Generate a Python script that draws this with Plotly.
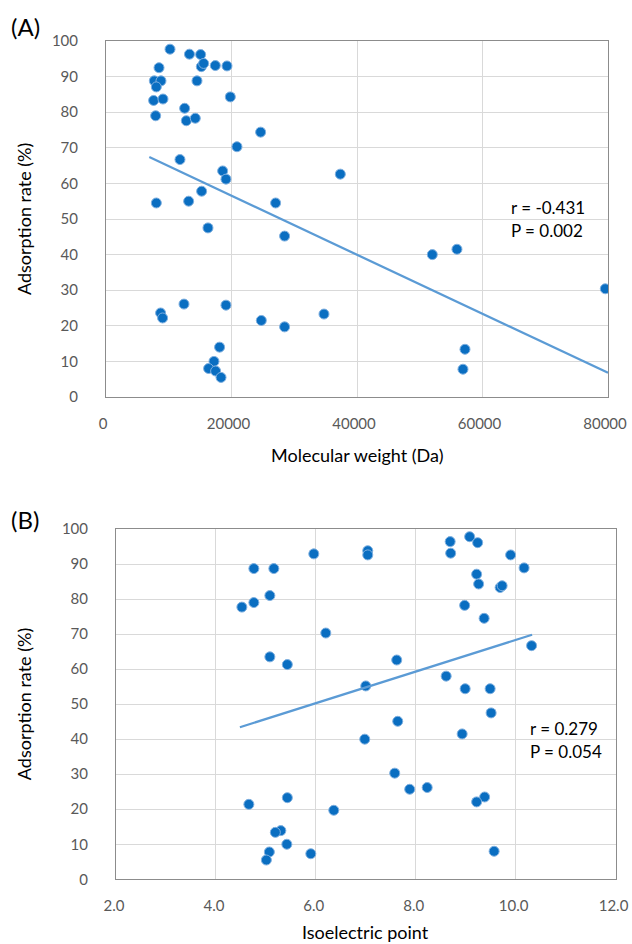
import plotly.graph_objects as go

W, H = 632, 944

# ---------------- Panel A data ----------------
mw_da = [10200, 13300, 15080, 8450, 15190, 15560, 17420, 19280, 7700, 8760,
         8020, 14500, 7590, 9080, 19810, 12530, 7910, 12800, 14230, 24640,
         20870, 11790, 18590, 19120, 37340, 15240, 8020, 13170, 27030, 16250,
         28460, 8700, 9020, 12430, 19120, 24750, 28460, 34740, 18100, 17210,
         16350, 17470, 18330, 52000, 55930, 79570, 57210, 56890]
ads_a = [97.7, 96.3, 96.2, 92.5, 92.8, 93.7, 93.1, 93.0, 88.8, 88.8,
         87.1, 88.8, 83.3, 83.7, 84.3, 81.1, 79.0, 77.6, 78.3, 74.4,
         70.3, 66.7, 63.5, 61.2, 62.6, 57.8, 54.5, 55.0, 54.5, 47.5,
         45.2, 23.6, 22.2, 26.1, 25.8, 21.5, 19.7, 23.3, 14.0, 10.0,
         8.0, 7.3, 5.5, 40.0, 41.5, 30.4, 13.4, 7.8]
trend_a_x = [6900, 80000]
trend_a_y = [67.4, 6.8]
stats_a = ["r = -0.431", "P = 0.002"]

# ---------------- Panel B data ----------------
pi_val = [5.96, 7.04, 7.04, 4.76, 5.16, 5.08, 4.76, 4.52, 6.20, 5.08,
          5.43, 7.00, 6.98, 4.66, 5.43, 6.36, 5.30, 5.19, 5.42, 5.07,
          5.01, 5.90, 7.62, 8.69, 9.08, 9.24, 8.70, 9.90, 10.17, 9.22,
          9.26, 9.69, 9.73, 8.98, 9.37, 10.32, 8.61, 8.99, 9.49, 9.51,
          7.64, 8.93, 7.58, 7.88, 8.23, 9.38, 9.22, 9.57]
ads_b = [92.9, 93.8, 92.6, 88.7, 88.7, 81.0, 79.0, 77.7, 70.3, 63.5,
         61.3, 55.2, 40.0, 21.4, 23.3, 19.7, 13.9, 13.4, 10.0, 7.8,
         5.5, 7.3, 62.6, 96.4, 97.8, 96.1, 93.1, 92.6, 88.9, 87.1,
         84.3, 83.3, 83.8, 78.2, 74.5, 66.7, 58.0, 54.4, 54.4, 47.5,
         45.1, 41.5, 30.3, 25.7, 26.2, 23.5, 22.1, 8.0]
trend_b_x = [4.48, 10.33]
trend_b_y = [43.4, 69.8]
stats_b = ["r = 0.279", "P = 0.054"]

y_ticks = [0, 10, 20, 30, 40, 50, 60, 70, 80, 90, 100]
xa_ticks = [0, 20000, 40000, 60000, 80000]
xa_ticklabels = ["0", "20000", "40000", "60000", "80000"]
xb_ticks = [2, 4, 6, 8, 10, 12]
xb_ticklabels = ["2.0", "4.0", "6.0", "8.0", "10.0", "12.0"]

# ---------------- layout helpers ----------------
FONT = "Lato, 'Open Sans', sans-serif"
MARKER = dict(size=10, color="#0A6EC1", line=dict(color="#7FB0E0", width=1))
LINE = dict(color="#5B9BD5", width=2.25)

def px_x(p):
    return p / W

def px_y(p):
    return 1 - p / H

# panel pixel boxes: left, right, top, bottom
A = (106, 608, 41, 397)
B = (116, 615.5, 529, 879.3)

fig = go.Figure()

fig.add_trace(go.Scatter(x=mw_da, y=ads_a, mode="markers", marker=MARKER,
                         xaxis="x", yaxis="y", showlegend=False))
fig.add_trace(go.Scatter(x=trend_a_x, y=trend_a_y, mode="lines", line=LINE,
                         xaxis="x", yaxis="y", showlegend=False))
fig.add_trace(go.Scatter(x=pi_val, y=ads_b, mode="markers", marker=MARKER,
                         xaxis="x2", yaxis="y2", showlegend=False))
fig.add_trace(go.Scatter(x=trend_b_x, y=trend_b_y, mode="lines", line=LINE,
                         xaxis="x2", yaxis="y2", showlegend=False))

tickfont = dict(family=FONT, size=15, color="#595959")
common = dict(showgrid=True, gridcolor="#D9D9D9", gridwidth=1,
              showline=True, linecolor="#8C8C8C", linewidth=1, mirror=True,
              zeroline=False, ticks="", tickfont=tickfont, automargin=False)

fig.update_layout(
    width=W, height=H,
    margin=dict(l=0, r=0, t=0, b=0, autoexpand=False),
    paper_bgcolor="white", plot_bgcolor="white",
    font=dict(family=FONT),
    xaxis=dict(domain=[px_x(A[0]), px_x(A[1])], range=[0, 80000],
               tickvals=xa_ticks, ticktext=xa_ticklabels,
               ticklabelstandoff=13, ticklabelshift=-3, anchor="y", **common),
    yaxis=dict(domain=[px_y(A[3]), px_y(A[2])], range=[0, 100],
               tickvals=y_ticks, ticklabelstandoff=24, anchor="x", **common),
    xaxis2=dict(domain=[px_x(B[0]), px_x(B[1])], range=[2, 12],
                tickvals=xb_ticks, ticktext=xb_ticklabels, ticklabelstandoff=13,
                ticklabelshift=-2, anchor="y2", **common),
    yaxis2=dict(domain=[px_y(B[3]), px_y(B[2])], range=[0, 100],
                tickvals=y_ticks, ticklabelstandoff=24, anchor="x2", **common),
)

ann = []
def text(x, y, s, size, anchor="center", angle=0, yanchor="middle"):
    ann.append(dict(x=px_x(x), y=px_y(y), xref="paper", yref="paper", text=s,
                    showarrow=False, xanchor=anchor, yanchor=yanchor,
                    textangle=angle,
                    font=dict(family=FONT, size=size, color="black")))

text(9, 26, "(A)", 24, anchor="left")
text(9, 519, "(B)", 24, anchor="left")
text(24, (A[2] + A[3]) / 2, "Adsorption rate (%)", 18, angle=-90)
text(24, (B[2] + B[3]) / 2, "Adsorption rate (%)", 18, angle=-90)
text((A[0] + A[1]) / 2, 455, "Molecular weight (Da)", 18)
text((B[0] + B[1]) / 2, 932, "Isoelectric point", 18)
text(509, 208, stats_a[0], 17, anchor="left")
text(509, 230, stats_a[1], 17, anchor="left")
text(528, 728, stats_b[0], 17, anchor="left")
text(528, 751, stats_b[1], 17, anchor="left")
fig.update_layout(annotations=ann)

# remove the default page margin so the figure fills the window exactly
fig.write_html(
    "out.html",
    config={"displayModeBar": False},
    post_script="document.body.style.margin='0';document.body.style.overflow='hidden';",
)
